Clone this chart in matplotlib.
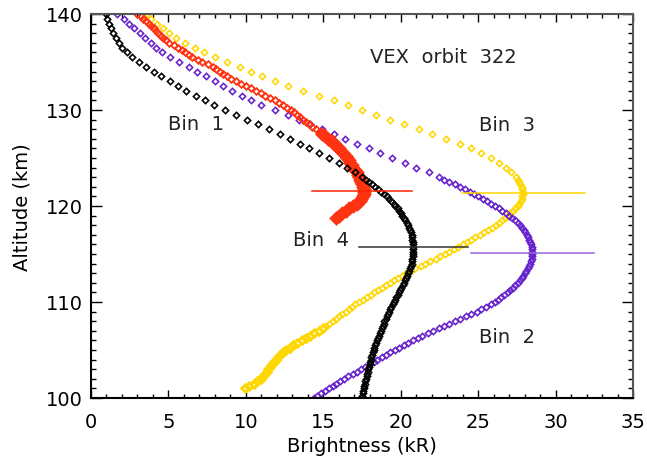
import numpy as np
import matplotlib.pyplot as plt

plt.rcParams['font.family'] = 'DejaVu Sans'
plt.rcParams['font.size'] = 14

# ALTITUDE SAMPLING (km), 0.25 km steps from 140 down to 100
alt_q = [140.0, 139.75, 139.5, 139.25, 139.0, 138.75, 138.5, 138.25, 138.0, 137.75,
         137.5, 137.25, 137.0, 136.75, 136.5, 136.25, 136.0, 135.75, 135.5, 135.25,
         135.0, 134.75, 134.5, 134.25, 134.0, 133.75, 133.5, 133.25, 133.0, 132.75,
         132.5, 132.25, 132.0, 131.75, 131.5, 131.25, 131.0, 130.75, 130.5, 130.25,
         130.0, 129.75, 129.5, 129.25, 129.0, 128.75, 128.5, 128.25, 128.0, 127.75,
         127.5, 127.25, 127.0, 126.75, 126.5, 126.25, 126.0, 125.75, 125.5, 125.25,
         125.0, 124.75, 124.5, 124.25, 124.0, 123.75, 123.5, 123.25, 123.0, 122.75,
         122.5, 122.25, 122.0, 121.75, 121.5, 121.25, 121.0, 120.75, 120.5, 120.25,
         120.0, 119.75, 119.5, 119.25, 119.0, 118.75, 118.5, 118.25, 118.0, 117.75,
         117.5, 117.25, 117.0, 116.75, 116.5, 116.25, 116.0, 115.75, 115.5, 115.25,
         115.0, 114.75, 114.5, 114.25, 114.0, 113.75, 113.5, 113.25, 113.0, 112.75,
         112.5, 112.25, 112.0, 111.75, 111.5, 111.25, 111.0, 110.75, 110.5, 110.25,
         110.0, 109.75, 109.5, 109.25, 109.0, 108.75, 108.5, 108.25, 108.0, 107.75,
         107.5, 107.25, 107.0, 106.75, 106.5, 106.25, 106.0, 105.75, 105.5, 105.25,
         105.0, 104.75, 104.5, 104.25, 104.0, 103.75, 103.5, 103.25, 103.0, 102.75,
         102.5, 102.25, 102.0, 101.75, 101.5, 101.25, 101.0, 100.75, 100.5, 100.25,
         100.0]
alt_up = alt_q[0:68:2]      # 140 .. 123.5, every 0.5 km
alt_low = alt_q[68:]        # 123 .. 100, every 0.25 km

# BIN 1 (red), 140 .. 118.75 km
alt_bin1 = alt_q[:86]
br_bin1 = [3.0, 3.2, 3.35, 3.55, 3.75, 3.9, 4.05, 4.2, 4.35, 4.5,
           4.65, 4.85, 5.05, 5.35, 5.6, 5.85, 6.05, 6.3, 6.55, 6.9,
           7.2, 7.55, 7.85, 8.1, 8.3, 8.55, 8.75, 9.05, 9.35, 9.7,
           10.0, 10.3, 10.65, 10.95, 11.25, 11.55, 11.9, 12.15, 12.4, 12.65,
           12.9, 13.1, 13.3, 13.5, 13.7, 13.9, 14.1, 14.3, 14.5, 14.7,
           14.9, 15.1, 15.3, 15.55, 15.7, 15.85, 16.0, 16.15, 16.3, 16.45,
           16.55, 16.65, 16.75, 16.85, 16.95, 17.05, 17.15, 17.25, 17.3, 17.4,
           17.45, 17.5, 17.55, 17.6, 17.6, 17.6, 17.55, 17.45, 17.35, 17.15,
           16.9, 16.65, 16.45, 16.2, 16.0, 15.8]

# BIN 2 (purple)
alt_bin2 = alt_up + alt_low
br_bin2 = [1.7, 2.15, 2.45, 2.8, 3.15, 3.5, 3.85, 4.2, 4.6, 5.1,
           5.7, 6.3, 6.85, 7.4, 8.0, 8.5, 9.1, 9.75, 10.35, 11.0,
           11.85, 12.7, 13.45, 14.15, 14.9, 15.7, 16.4, 17.2, 17.95, 18.65,
           19.45, 20.25, 21.0, 21.8,
           22.5, 22.8, 23.15, 23.5, 23.85, 24.15, 24.45, 24.75, 25.0, 25.3,
           25.55, 25.85, 26.1, 26.35, 26.55, 26.8, 27.0, 27.2, 27.4, 27.55,
           27.7, 27.85, 27.95, 28.05, 28.15, 28.22, 28.3, 28.35, 28.4, 28.45,
           28.5, 28.5, 28.5, 28.48, 28.45, 28.4, 28.35, 28.28, 28.2, 28.1,
           28.0, 27.9, 27.8, 27.68, 27.55, 27.4, 27.25, 27.08, 26.9, 26.7,
           26.5, 26.3, 26.1, 25.8, 25.5, 25.2, 24.9, 24.55, 24.2, 23.85,
           23.5, 23.15, 22.8, 22.45, 22.1, 21.75, 21.4, 21.1, 20.8, 20.5,
           20.2, 19.9, 19.6, 19.32, 19.05, 18.78, 18.5, 18.25, 18.0, 17.72,
           17.45, 17.18, 16.9, 16.62, 16.35, 16.1, 15.85, 15.6, 15.35, 15.1,
           14.85, 14.62, 14.4]

# BIN 3 (yellow), down to 101 km
alt_bin3 = alt_up + alt_low[:89]
br_bin3 = [3.6, 3.9, 4.25, 4.65, 5.05, 5.5, 6.05, 6.7, 7.3, 8.0,
           8.8, 9.6, 10.35, 11.05, 11.85, 12.7, 13.7, 14.75, 15.7, 16.6,
           17.5, 18.4, 19.3, 20.2, 21.15, 22.05, 22.95, 23.8, 24.55, 25.2,
           25.8, 26.35, 26.8, 27.15,
           27.45, 27.55, 27.65, 27.72, 27.8, 27.85, 27.9, 27.88, 27.85, 27.8,
           27.75, 27.65, 27.55, 27.4, 27.25, 27.08, 26.9, 26.72, 26.55, 26.35,
           26.15, 25.9, 25.65, 25.38, 25.1, 24.82, 24.55, 24.28, 24.0, 23.72,
           23.45, 23.15, 22.85, 22.55, 22.25, 21.92, 21.6, 21.28, 20.95, 20.65,
           20.35, 20.08, 19.8, 19.55, 19.3, 19.05, 18.8, 18.55, 18.3, 18.05,
           17.8, 17.55, 17.3, 17.08, 16.85, 16.65, 16.45, 16.22, 16.0, 15.8,
           15.6, 15.4, 15.2, 14.95, 14.7, 14.42, 14.15, 13.88, 13.6, 13.32,
           13.05, 12.82, 12.6, 12.4, 12.2, 12.08, 11.95, 11.82, 11.7, 11.58,
           11.45, 11.35, 11.25, 11.12, 11.0, 10.75, 10.5, 10.22, 9.95]

# BIN 4 (black)
alt_bin4 = alt_up + alt_low
br_bin4 = [0.95, 1.05, 1.15, 1.3, 1.45, 1.6, 1.8, 2.0, 2.3, 2.65,
           3.1, 3.55, 4.05, 4.55, 5.1, 5.6, 6.15, 6.75, 7.35, 7.95,
           8.65, 9.35, 10.1, 10.8, 11.5, 12.2, 12.85, 13.5, 14.1, 14.75,
           15.4, 16.0, 16.55, 17.05,
           17.5, 17.75, 17.95, 18.15, 18.35, 18.55, 18.75, 18.95, 19.1, 19.25,
           19.4, 19.55, 19.65, 19.8, 19.9, 20.0, 20.1, 20.2, 20.3, 20.4,
           20.45, 20.55, 20.6, 20.65, 20.7, 20.72, 20.75, 20.78, 20.8, 20.8,
           20.8, 20.8, 20.8, 20.78, 20.75, 20.72, 20.7, 20.65, 20.6, 20.55,
           20.5, 20.42, 20.35, 20.28, 20.2, 20.12, 20.05, 19.98, 19.9, 19.8,
           19.7, 19.62, 19.55, 19.48, 19.4, 19.32, 19.25, 19.18, 19.1, 19.02,
           18.95, 18.9, 18.85, 18.78, 18.7, 18.65, 18.6, 18.52, 18.45, 18.4,
           18.35, 18.3, 18.25, 18.2, 18.15, 18.1, 18.05, 18.02, 18.0, 17.95,
           17.9, 17.88, 17.85, 17.8, 17.75, 17.72, 17.7, 17.65, 17.6, 17.58,
           17.55, 17.5, 17.45]

# PEAK MARKERS (altitude, brightness span) for bins 1..4
peak_alt = [121.55, 115.1, 121.35, 115.75]
peak_x0 = [14.3, 24.55, 23.95, 17.3]
peak_x1 = [20.7, 32.5, 31.9, 24.35]

labels = ['Bin  1', 'Bin  2', 'Bin  3', 'Bin  4']
label_x = [4.97, 25.05, 25.05, 13.04]
label_y = [128.0, 105.8, 127.9, 115.9]

c_red, c_purple, c_yellow, c_black = '#ff3311', '#6622cc', '#ffd700', '#000000'
line_cols = ['#ff2200', '#9966dd', '#ffd700', '#333333']

for a, b in [(alt_bin1, br_bin1), (alt_bin2, br_bin2), (alt_bin3, br_bin3), (alt_bin4, br_bin4)]:
    assert len(a) == len(b), (len(a), len(b))

fig = plt.figure(figsize=(6.47, 4.60), dpi=100)
ax = fig.add_axes([91/647, 61/460, 542/647, 384/460])

mk = dict(ls='none', marker='D', ms=3.2, mfc='none', mew=1.15)
ax.plot(br_bin3, alt_bin3, mec=c_yellow, **mk)
# dense low part of bin 3 looks like a solid band
ax.plot(br_bin3[-26:], alt_bin3[-26:], ls='none', marker='D', ms=4.0, mfc='none', mec=c_yellow, mew=1.8)
ax.plot(br_bin2, alt_bin2, mec=c_purple, **mk)
ax.plot(br_bin1, alt_bin1, ls='none', marker='D', ms=3.4, mfc='none', mec=c_red, mew=1.3)
# thick band below ~127 km
ax.plot(br_bin1[50:], alt_bin1[50:], ls='none', marker='D', ms=5.0, mfc='none', mec=c_red, mew=2.4)
ax.plot(br_bin4, alt_bin4, mec=c_black, **mk)

for i in range(4):
    ax.plot([peak_x0[i], peak_x1[i]], [peak_alt[i], peak_alt[i]], color=line_cols[i], lw=1.1)
    ax.text(label_x[i], label_y[i], labels[i], va='baseline', ha='left', fontsize=14, color='#222222')
ax.text(18.0, 135.0, 'VEX  orbit  322', va='baseline', ha='left', fontsize=14, color='#222222')

ax.set_xlim(0, 35)
ax.set_ylim(100, 140)
ax.set_xticks(np.arange(0, 36, 5))
ax.set_xticks(np.arange(0, 36, 1), minor=True)
ax.set_yticks(np.arange(100, 141, 10))
ax.set_yticks(np.arange(100, 141, 1), minor=True)
ax.tick_params(axis='x', which='major', direction='in', top=True, length=5.5, width=1.0, pad=10)
ax.tick_params(axis='x', which='minor', direction='in', top=True, length=3, width=1.0)
ax.tick_params(axis='y', which='major', direction='in', right=True, length=8, width=1.0, pad=6)
ax.tick_params(axis='y', which='minor', direction='in', right=True, length=3.8, width=1.0)
for side in ['left', 'bottom']:
    ax.spines[side].set_linewidth(1.5)
for side in ['top', 'right']:
    ax.spines[side].set_linewidth(1.5)
    ax.spines[side].set_color('#555555')

ax.set_xlabel('Brightness (kR)', labelpad=4)
ax.set_ylabel('Altitude (km)', labelpad=10)

plt.savefig('out.png', dpi=100)
